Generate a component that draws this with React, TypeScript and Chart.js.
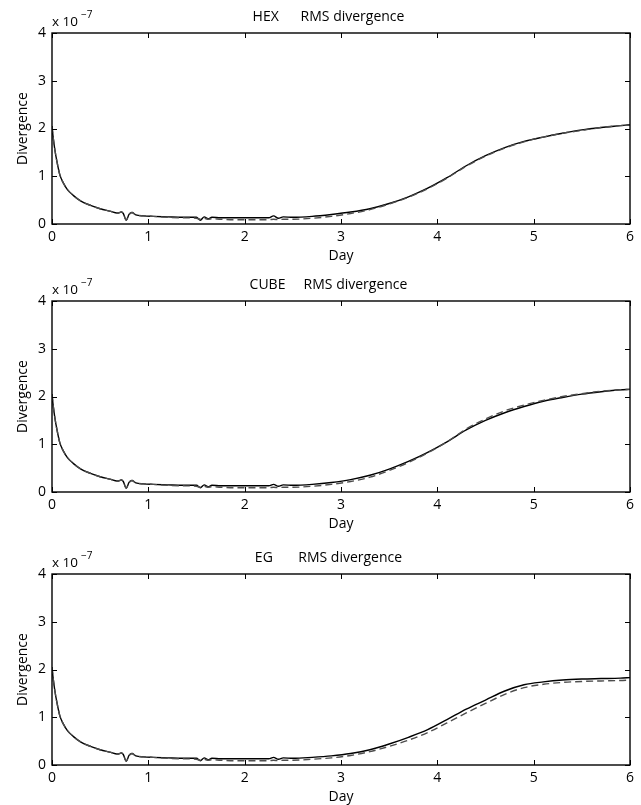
import React, { useEffect, useRef } from "react";
import { Chart, registerables } from "chart.js";

Chart.register(...registerables);

// ---------- data (values in units of 1e-7) ----------
const days = [
  0, 0.01, 0.03, 0.05, 0.08, 0.12, 0.16, 0.22, 0.3, 0.4,
  0.5, 0.6, 0.68, 0.72, 0.74, 0.77, 0.8, 0.83, 0.87, 0.95,
  1.05, 1.2, 1.35, 1.5, 1.54, 1.58, 1.62, 1.66, 1.75, 1.9,
  2.1, 2.25, 2.3, 2.35, 2.4, 2.5, 2.7, 2.9, 3.1, 3.3,
  3.5, 3.7, 3.9, 4.1, 4.3, 4.5, 4.7, 4.9, 5.1, 5.3,
  5.5, 5.7, 5.9, 6.0,
];

const hexSolid = [
  2.05, 1.85, 1.55, 1.32, 1.04, 0.85, 0.72, 0.6, 0.48, 0.39,
  0.32, 0.27, 0.23, 0.25, 0.22, 0.08, 0.2, 0.24, 0.19, 0.17,
  0.16, 0.15, 0.14, 0.14, 0.08, 0.15, 0.11, 0.14, 0.13, 0.13,
  0.13, 0.13, 0.17, 0.12, 0.15, 0.14, 0.16, 0.2, 0.25, 0.32,
  0.43, 0.57, 0.75, 0.97, 1.22, 1.43, 1.6, 1.73, 1.82, 1.9,
  1.97, 2.02, 2.06, 2.08,
];
const hexDashed = [
  2.05, 1.85, 1.55, 1.32, 1.04, 0.85, 0.72, 0.6, 0.48, 0.39,
  0.32, 0.27, 0.23, 0.25, 0.22, 0.08, 0.2, 0.24, 0.19, 0.17,
  0.16, 0.14, 0.13, 0.12, 0.1, 0.12, 0.1, 0.11, 0.1, 0.09,
  0.09, 0.09, 0.1, 0.09, 0.1, 0.1, 0.12, 0.16, 0.22, 0.3,
  0.42, 0.56, 0.74, 0.96, 1.21, 1.42, 1.59, 1.72, 1.82, 1.9,
  1.96, 2.02, 2.06, 2.07,
];

const cubeSolid = [
  2.05, 1.85, 1.55, 1.32, 1.04, 0.85, 0.72, 0.6, 0.48, 0.39,
  0.32, 0.27, 0.23, 0.25, 0.22, 0.08, 0.2, 0.24, 0.19, 0.17,
  0.16, 0.15, 0.14, 0.14, 0.09, 0.15, 0.11, 0.14, 0.13, 0.13,
  0.13, 0.13, 0.16, 0.12, 0.15, 0.14, 0.16, 0.2, 0.26, 0.35,
  0.48, 0.64, 0.83, 1.05, 1.3, 1.5, 1.66, 1.79, 1.9, 1.98,
  2.05, 2.1, 2.14, 2.15,
];
const cubeDashed = [
  2.05, 1.85, 1.55, 1.32, 1.04, 0.85, 0.72, 0.6, 0.48, 0.39,
  0.32, 0.27, 0.23, 0.25, 0.22, 0.08, 0.2, 0.24, 0.19, 0.17,
  0.16, 0.14, 0.13, 0.12, 0.1, 0.12, 0.1, 0.11, 0.1, 0.09,
  0.09, 0.09, 0.1, 0.09, 0.1, 0.1, 0.12, 0.16, 0.22, 0.31,
  0.45, 0.62, 0.82, 1.05, 1.32, 1.53, 1.7, 1.82, 1.92, 2.0,
  2.06, 2.11, 2.14, 2.15,
];

const egSolid = [
  2.05, 1.85, 1.55, 1.32, 1.04, 0.85, 0.72, 0.6, 0.48, 0.39,
  0.32, 0.27, 0.23, 0.25, 0.22, 0.08, 0.2, 0.24, 0.19, 0.17,
  0.16, 0.15, 0.14, 0.14, 0.09, 0.15, 0.11, 0.14, 0.13, 0.13,
  0.13, 0.13, 0.16, 0.12, 0.15, 0.14, 0.16, 0.19, 0.24, 0.32,
  0.44, 0.58, 0.74, 0.95, 1.17, 1.36, 1.55, 1.68, 1.74, 1.78,
  1.8, 1.81, 1.82, 1.83,
];
const egDashed = [
  2.05, 1.85, 1.55, 1.32, 1.04, 0.85, 0.72, 0.6, 0.48, 0.39,
  0.32, 0.27, 0.23, 0.25, 0.22, 0.08, 0.2, 0.24, 0.19, 0.17,
  0.16, 0.14, 0.13, 0.12, 0.1, 0.12, 0.1, 0.11, 0.1, 0.09,
  0.09, 0.09, 0.1, 0.09, 0.1, 0.1, 0.12, 0.15, 0.2, 0.28,
  0.39, 0.52, 0.68, 0.88, 1.09, 1.29, 1.48, 1.62, 1.69, 1.73,
  1.75, 1.76, 1.77, 1.78,
];

const panelTitles = [
  "HEX      RMS divergence",
  "CUBE     RMS divergence",
  "EG       RMS divergence",
];
const solidSeries = [hexSolid, cubeSolid, egSolid];
const dashedSeries = [hexDashed, cubeDashed, egDashed];
const xTitle = "Day";
const yTitle = "Divergence";
const exponentBase = "x 10";
const exponentPower = "\u22127";
const xMin = 0;
const xMax = 6;
const yMin = 0;
const yMax = 4;

// ---------- layout ----------
const W = 641;
const PANEL_H = 264;
const panelTops = [0, 268, 541];
const FONT = '"Open Sans", "DejaVu Sans", sans-serif';

const framePlugin = {
  id: "matlabFrame",
  afterDraw(chart: any, _args: any, opts: any) {
    const { ctx, chartArea: a, scales } = chart;
    ctx.save();
    // inward ticks on all four sides
    ctx.strokeStyle = "#000";
    ctx.lineWidth = 1;
    const L = 5;
    ctx.beginPath();
    scales.x.ticks.forEach((t: any) => {
      const px = Math.round(scales.x.getPixelForValue(t.value)) + 0.5;
      ctx.moveTo(px, a.bottom);
      ctx.lineTo(px, a.bottom - L);
      ctx.moveTo(px, a.top);
      ctx.lineTo(px, a.top + L);
    });
    scales.y.ticks.forEach((t: any) => {
      const py = Math.round(scales.y.getPixelForValue(t.value)) + 0.5;
      ctx.moveTo(a.left, py);
      ctx.lineTo(a.left + L, py);
      ctx.moveTo(a.right, py);
      ctx.lineTo(a.right - L, py);
    });
    ctx.stroke();
    // box
    ctx.lineWidth = 1.4;
    ctx.strokeRect(a.left, a.top, a.right - a.left, a.bottom - a.top);

    // title
    ctx.fillStyle = "#000";
    ctx.font = `14px ${FONT}`;
    ctx.textAlign = "center";
    ctx.textBaseline = "middle";
    ctx.fillText(opts.title, 328.5, a.top - 16);

    // exponent label
    ctx.textAlign = "left";
    ctx.font = `13.5px ${FONT}`;
    ctx.fillText(exponentBase, a.left, a.top - 10.5);
    const w = ctx.measureText(exponentBase).width;
    ctx.font = `10px ${FONT}`;
    ctx.fillText(exponentPower, a.left + w + 3, a.top - 18);
    ctx.restore();
  },
};

function Panel({ index }: { index: number }) {
  const ref = useRef<HTMLCanvasElement | null>(null);
  useEffect(() => {
    if (!ref.current) return;
    const solid = solidSeries[index];
    const dashed = dashedSeries[index];
    const chart = new Chart(ref.current, {
      type: "line",
      data: {
        datasets: [
          {
            data: days.map((d, i) => ({ x: d, y: dashed[i] })),
            borderColor: "#4d4d4d",
            borderWidth: 1.4,
            borderDash: [7, 4],
            pointRadius: 0,
            cubicInterpolationMode: "monotone",
            fill: false,
          },
          {
            data: days.map((d, i) => ({ x: d, y: solid[i] })),
            borderColor: "#000000",
            borderWidth: 1.4,
            pointRadius: 0,
            cubicInterpolationMode: "monotone",
            fill: false,
          },
        ],
      },
      options: {
        animation: false,
        responsive: false,
        devicePixelRatio: 1,
        layout: { padding: { top: 33, right: 11, left: 0, bottom: 0 } },
        plugins: {
          legend: { display: false },
          tooltip: { enabled: false },
          // @ts-ignore
          matlabFrame: { title: panelTitles[index] },
        },
        scales: {
          x: {
            type: "linear",
            min: xMin,
            max: xMax,
            afterFit: (s: any) => {
              s.height = 40;
            },
            grid: { display: false, drawTicks: false },
            border: { display: false },
            ticks: {
              stepSize: 1,
              padding: 5,
              color: "#000",
              font: { family: FONT, size: 14 },
            },
            title: {
              display: true,
              text: xTitle,
              color: "#000",
              font: { family: FONT, size: 14 },
              padding: { top: 0, bottom: 0 },
            },
          },
          y: {
            type: "linear",
            min: yMin,
            max: yMax,
            afterFit: (s: any) => {
              s.width = 52;
            },
            grid: { display: false, drawTicks: false },
            border: { display: false },
            ticks: {
              stepSize: 1,
              padding: 6,
              color: "#000",
              font: { family: FONT, size: 14 },
            },
            title: {
              display: true,
              text: yTitle,
              color: "#000",
              font: { family: FONT, size: 14 },
              padding: { top: 15, bottom: 0 },
            },
          },
        },
      },
      plugins: [framePlugin],
    } as any);
    return () => chart.destroy();
  }, [index]);
  return (
    <canvas
      ref={ref}
      width={W}
      height={PANEL_H}
      style={{
        position: "absolute",
        left: 0,
        top: panelTops[index],
        width: W,
        height: PANEL_H,
      }}
    />
  );
}

export default function App() {
  return (
    <div
      style={{
        position: "absolute",
        left: 0,
        top: 0,
        width: W,
        height: 805,
        background: "#fff",
        overflow: "hidden",
      }}
    >
      {[0, 1, 2].map((i) => (
        <Panel key={i} index={i} />
      ))}
    </div>
  );
}
